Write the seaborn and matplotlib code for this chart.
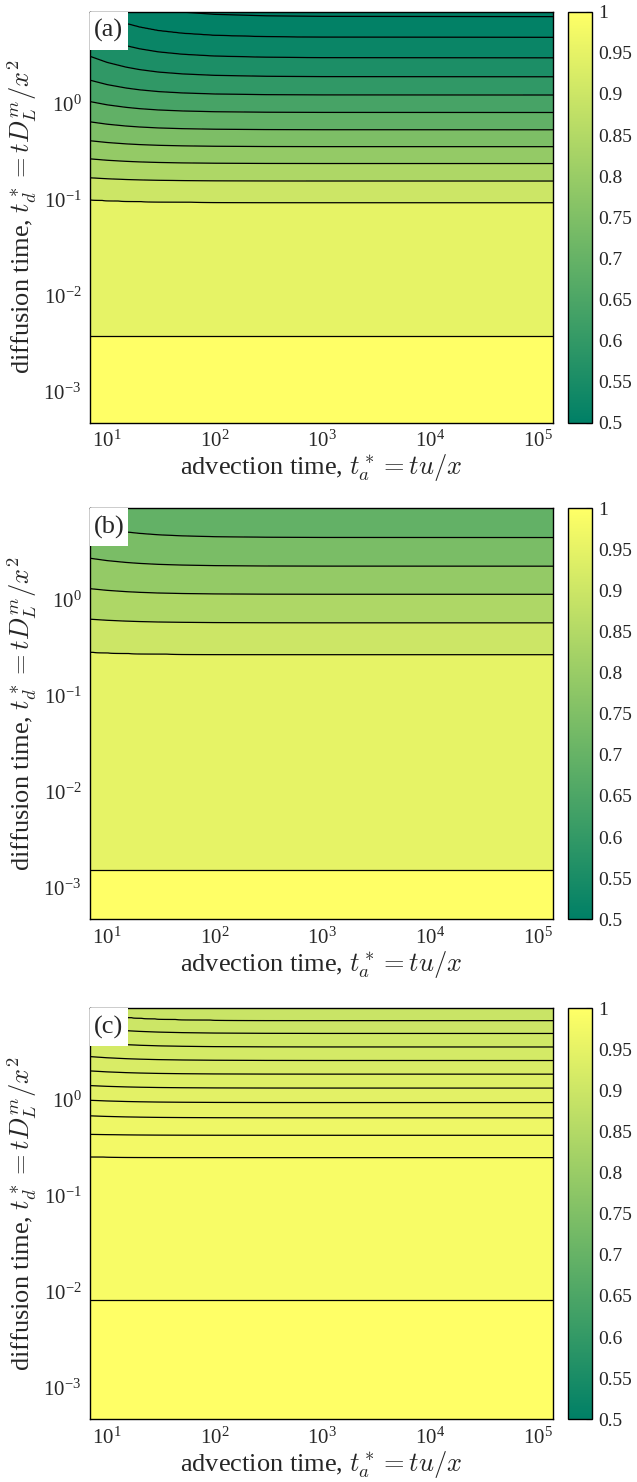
import numpy as np
import matplotlib
matplotlib.use("Agg")
import matplotlib.pyplot as plt
import seaborn as sns
from matplotlib.colors import Normalize
from matplotlib.patches import Rectangle
from matplotlib.cm import ScalarMappable

sns.set_style("white")
plt.rcParams["font.family"] = ["Liberation Serif", "DejaVu Serif"]
plt.rcParams["mathtext.fontset"] = "cm"

# ---------------- data ----------------
ta_limits = [6.9, 1.4e5]          # advection time axis range
td_limits = [4.7e-4, 9.0]         # diffusion time axis range

panel_labels = ["(a)", "(b)", "(c)"]

# log10(t_d) of each contour line at large t_a (bottom -> top)
lines_a = [-2.42, -1.034, -0.810, -0.628, -0.452, -0.276, -0.096, 0.086, 0.276, 0.473, 0.686, 0.903]
lines_b = [-2.81, -0.570, -0.239, 0.058, 0.351, 0.650]
lines_c = [-2.083, -0.601, -0.369, -0.187, -0.028, 0.123, 0.268, 0.410, 0.551, 0.692, 0.826]

# upward shift (decades) of each line at the left edge (smallest t_a)
shift_a = [0.0, 0.028, 0.034, 0.049, 0.062, 0.083, 0.114, 0.155, 0.214, 0.27, 0.31, 0.34]
shift_b = [0.0, 0.025, 0.038, 0.059, 0.083, 0.124]
shift_c = [0.0, 0.007, 0.010, 0.021, 0.024, 0.026, 0.034, 0.041, 0.052, 0.062, 0.072]

# value of the filled bands (bottom -> top)
bands_a = [1.0, 0.95, 0.90, 0.84, 0.79, 0.745, 0.69, 0.64, 0.595, 0.555, 0.52, 0.505, 0.5]
bands_b = [1.0, 0.95, 0.90, 0.84, 0.79, 0.74, 0.695]
bands_c = [1.0, 0.985, 0.975, 0.965, 0.955, 0.945, 0.935, 0.925, 0.915, 0.907, 0.9, 0.893]

# how strongly the lines bend along t_a (fraction of left-edge shift)
bend_ta = [6.9, 10, 15, 20, 30, 50, 100, 300, 1000, 1.4e5]
bend_frac = [1.0, 0.7, 0.47, 0.35, 0.23, 0.14, 0.07, 0.025, 0.008, 0.0]

cbar_ticks = [0.5, 0.55, 0.6, 0.65, 0.7, 0.75, 0.8, 0.85, 0.9, 0.95, 1.0]

# ---------------- figure ----------------
cmap = sns.color_palette("summer", as_cmap=True)
norm = Normalize(0.5, 1.0)

fig = plt.figure(figsize=(6.37, 14.82), dpi=100)
W, H = 637.0, 1482.0
ax_left, ax_right = 89.8, 553.3
tops = [11.7, 508.3, 1008.3]
ax_h = 411.0
cb_left, cb_w = 567.7, 24.5

ta = np.logspace(np.log10(ta_limits[0]), np.log10(ta_limits[1]), 300)
td = np.logspace(np.log10(td_limits[0]), np.log10(td_limits[1]), 700)
TA, TD = np.meshgrid(ta, td)
logtd = np.log10(td)
bend = np.interp(np.log10(ta), np.log10(bend_ta), bend_frac)

data = [(lines_a, shift_a, bands_a), (lines_b, shift_b, bands_b), (lines_c, shift_c, bands_c)]

for i, (lines, shift, bands) in enumerate(data):
    top = tops[i]
    rect = [ax_left / W, 1 - (top + ax_h) / H, (ax_right - ax_left) / W, ax_h / H]
    ax = fig.add_axes(rect)

    lines = np.array(lines)
    shift = np.array(shift)
    bands = np.array(bands)
    line_vals = (bands[:-1] + bands[1:]) / 2.0
    zmin, zmax = 0.4, 1.01
    fp = np.concatenate([[bands[0]], line_vals, [0.45]])

    Z = np.empty_like(TA)
    for j in range(len(ta)):
        pos = lines + shift * bend[j]
        xp = np.concatenate([[logtd[0] - 1.0], pos, [logtd[-1] + 1.0]])
        Z[:, j] = np.interp(logtd, xp, fp)

    levels_asc = np.concatenate([[zmin], line_vals[::-1], [zmax]])
    colors_asc = [cmap(norm(v)) for v in bands[::-1]]
    ax.contourf(TA, TD, Z, levels=levels_asc, colors=colors_asc)
    ax.contour(TA, TD, Z, levels=line_vals[::-1], colors="k", linewidths=0.9)

    ax.set_xscale("log")
    ax.set_yscale("log")
    ax.set_xlim(ta_limits)
    ax.set_ylim(td_limits)
    ax.minorticks_off()
    ax.tick_params(which="both", direction="in", length=4, width=0.8,
                   top=True, right=True, labelsize=15, pad=6)
    for sp in ax.spines.values():
        sp.set_linewidth(1.0)
        sp.set_color("k")
    ax.set_xlabel(r"advection time, $t_a^* = tu/x$", fontsize=19, labelpad=0)
    ax.set_ylabel(r"diffusion time, $t_d^* = tD_L^m/x^2$", fontsize=19, labelpad=3)

    bw = 38.0 / (ax_right - ax_left)
    bh = 38.0 / ax_h
    ax.add_patch(Rectangle((0, 1 - bh), bw, bh, transform=ax.transAxes,
                           facecolor="white", edgecolor="none", zorder=5))
    ax.text(bw / 2, 1 - bh / 2, panel_labels[i], transform=ax.transAxes,
            ha="center", va="center", fontsize=19, zorder=6)

    cax = fig.add_axes([cb_left / W, rect[1], cb_w / W, rect[3]])
    sm = ScalarMappable(norm=norm, cmap=cmap)
    cb = fig.colorbar(sm, cax=cax, ticks=cbar_ticks)
    cb.ax.set_yticklabels([f"{v:g}" for v in cbar_ticks])
    cb.ax.tick_params(direction="in", length=4, width=0.8, labelsize=14, pad=4)
    cb.outline.set_linewidth(1.0)
    cb.outline.set_edgecolor("k")

fig.savefig("out.png", dpi=100)
